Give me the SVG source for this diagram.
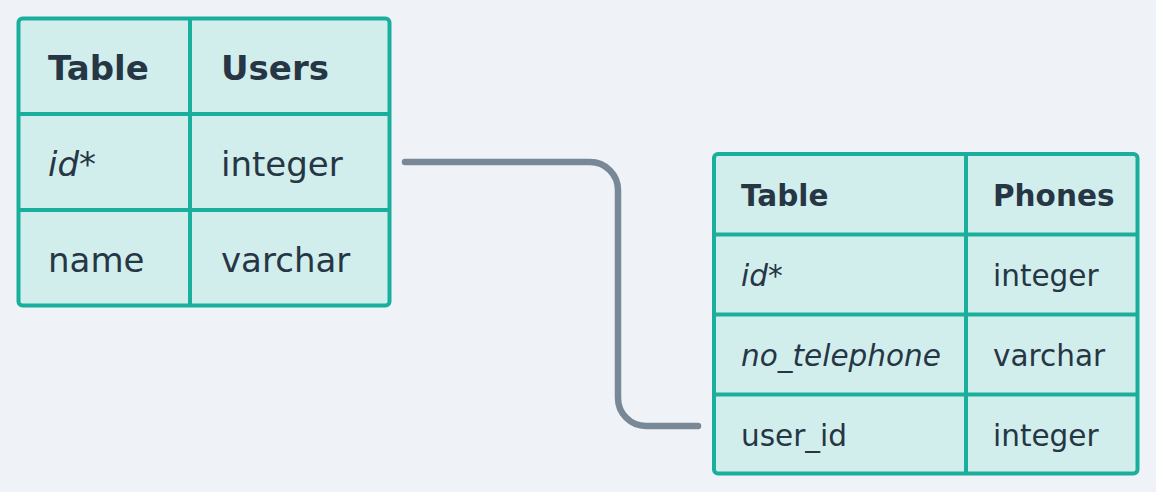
<svg xmlns="http://www.w3.org/2000/svg" width="1156" height="492" viewBox="0 0 1156 492">
<style>
.tbl{fill:#d2eeec;stroke:#1aaf9c;stroke-width:4}
.ln{stroke:#1aaf9c;stroke-width:4}
text{font-family:"DejaVu Sans",sans-serif;fill:#263645}
.b{font-weight:bold}
.i{font-style:italic}
.u{font-size:34px}
.p{font-size:29.5px}
.conn{fill:none;stroke:#798897;stroke-width:6.5;stroke-linecap:round}
</style>
<rect width="1156" height="492" fill="#eff3f7"/>
<g id="connectors">
<path class="conn" d="M405 162 H590 A28 28 0 0 1 618 190 V398 A28 28 0 0 0 646 426 H698"/>
</g>
<g id="users">
<rect class="tbl" x="18.5" y="18.5" width="371" height="287" rx="4"/>
<line class="ln" x1="190" y1="18.5" x2="190" y2="305.5"/>
<line class="ln" x1="18.5" y1="114" x2="389.5" y2="114"/>
<line class="ln" x1="18.5" y1="210" x2="389.5" y2="210"/>
<text class="u b" x="48" y="80">Table</text>
<text class="u b" x="221" y="80">Users</text>
<text class="u i" x="48" y="176">id*</text>
<text class="u" x="221" y="176">integer</text>
<text class="u" x="48" y="272">name</text>
<text class="u" x="221" y="272">varchar</text>
</g>
<g id="phones">
<rect class="tbl" x="714" y="154" width="423.5" height="319.5" rx="4"/>
<line class="ln" x1="966" y1="154" x2="966" y2="473.5"/>
<line class="ln" x1="714" y1="234.5" x2="1137.5" y2="234.5"/>
<line class="ln" x1="714" y1="314.5" x2="1137.5" y2="314.5"/>
<line class="ln" x1="714" y1="394.5" x2="1137.5" y2="394.5"/>
<text class="p b" x="741" y="206">Table</text>
<text class="p b" x="993" y="206">Phones</text>
<text class="p i" x="741" y="286">id*</text>
<text class="p" x="993" y="286">integer</text>
<text class="p i" x="741" y="366">no_telephone</text>
<text class="p" x="993" y="366">varchar</text>
<text class="p" x="741" y="446">user_id</text>
<text class="p" x="993" y="446">integer</text>
</g>
</svg>
